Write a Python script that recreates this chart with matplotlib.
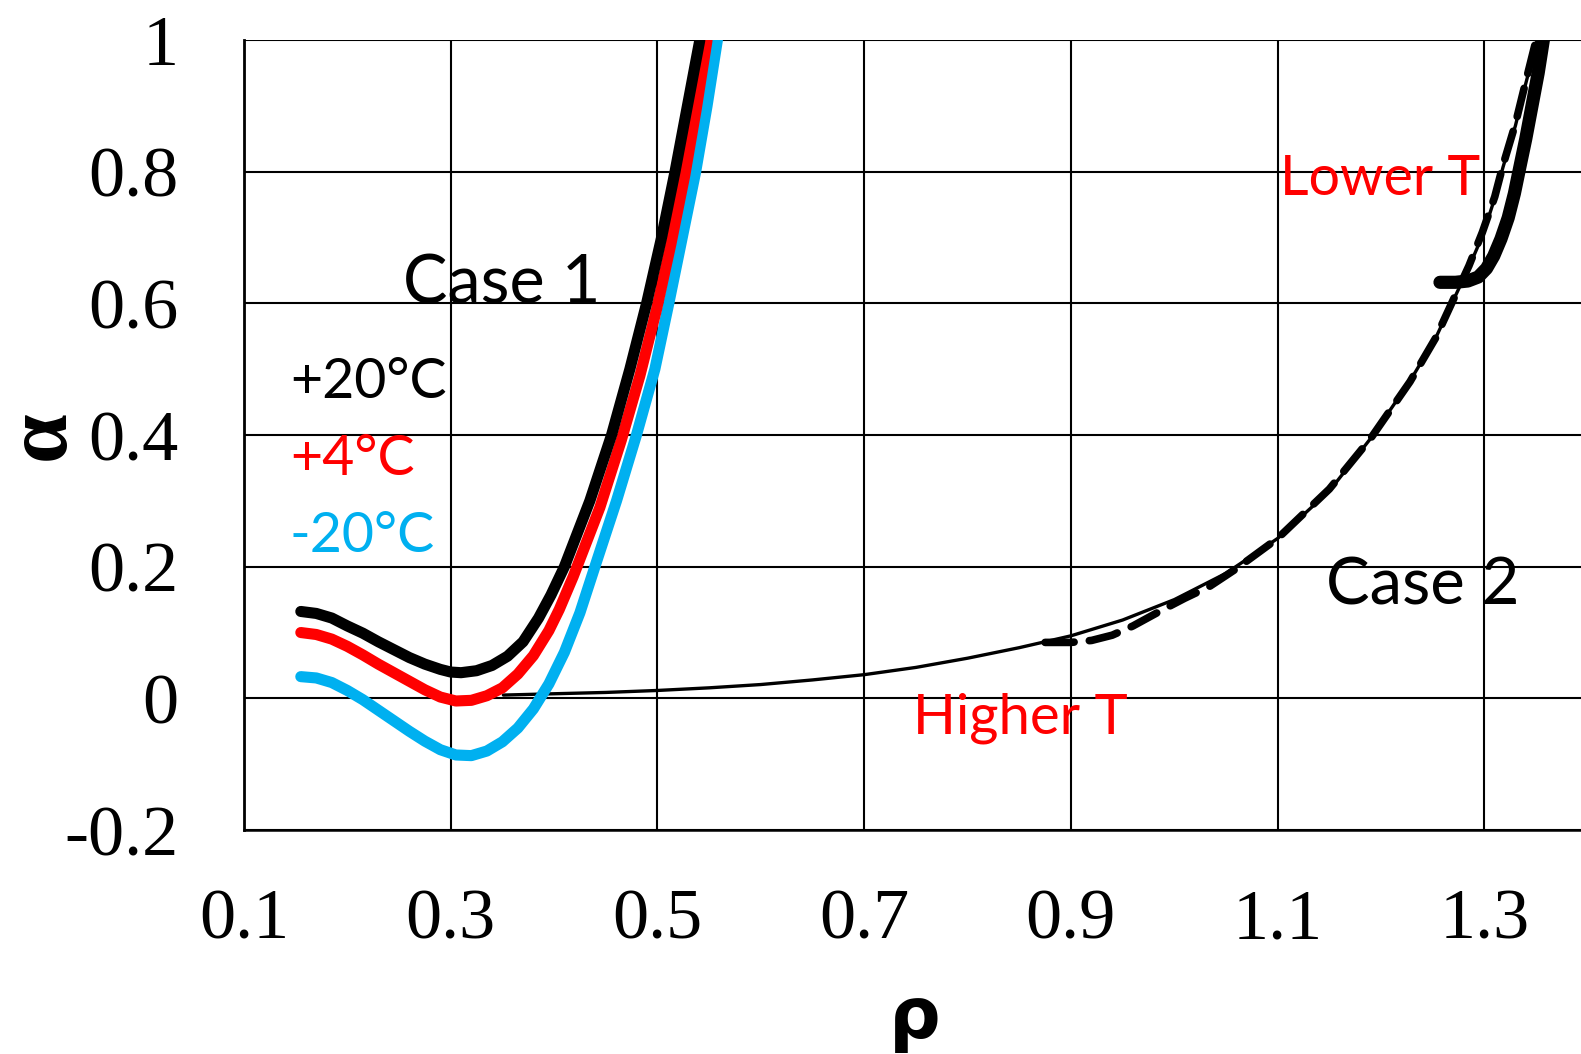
import numpy as np
import matplotlib
matplotlib.use("Agg")
import matplotlib.pyplot as plt

# -------------------------------
# Data
# -------------------------------
# Case 1: three temperatures
rho_p20 = [0.155, 0.17, 0.185, 0.2, 0.215, 0.23, 0.245, 0.26, 0.275, 0.29, 0.30, 0.31,
           0.325, 0.34, 0.355, 0.37, 0.385, 0.397, 0.41, 0.4346, 0.4556, 0.4733, 0.4895,
           0.504, 0.517, 0.529, 0.541]
alpha_p20 = [0.132, 0.129, 0.122, 0.110, 0.099, 0.086, 0.074, 0.062, 0.052, 0.044, 0.040,
             0.039, 0.042, 0.050, 0.064, 0.086, 0.122, 0.157, 0.2, 0.3, 0.4, 0.5, 0.6,
             0.7, 0.8, 0.9, 1.0]

rho_p4 = [0.155, 0.17, 0.185, 0.2, 0.215, 0.23, 0.245, 0.26, 0.275, 0.29, 0.305, 0.32,
          0.335, 0.35, 0.365, 0.38, 0.395, 0.405, 0.4185, 0.4443, 0.465, 0.483, 0.499,
          0.513, 0.5265, 0.5375, 0.548]
alpha_p4 = [0.100, 0.097, 0.090, 0.079, 0.066, 0.052, 0.039, 0.026, 0.013, 0.002, -0.004,
            -0.003, 0.004, 0.016, 0.037, 0.065, 0.103, 0.135, 0.185, 0.29, 0.392, 0.49,
            0.59, 0.69, 0.795, 0.895, 1.0]

rho_m20 = [0.155, 0.17, 0.185, 0.2, 0.215, 0.23, 0.245, 0.26, 0.275, 0.29, 0.305, 0.32,
           0.335, 0.35, 0.365, 0.38, 0.395, 0.41, 0.425, 0.4395, 0.4604, 0.4797, 0.4975,
           0.511, 0.524, 0.537, 0.548, 0.558]
alpha_m20 = [0.033, 0.031, 0.024, 0.012, -0.002, -0.018, -0.034, -0.050, -0.065, -0.078,
             -0.086, -0.087, -0.080, -0.066, -0.045, -0.016, 0.022, 0.070, 0.130, 0.2,
             0.3, 0.4, 0.5, 0.6, 0.7, 0.8, 0.9, 1.0]

# Case 2: thin reference curve, higher T (dashed), lower T (thick)
rho_c2 = [0.351, 0.4, 0.45, 0.5, 0.55, 0.6, 0.65, 0.7, 0.75, 0.8, 0.85, 0.9, 0.95, 1.0,
          1.05, 1.1, 1.15, 1.19, 1.228, 1.253, 1.27, 1.285, 1.299, 1.31, 1.318, 1.33,
          1.34, 1.351]
alpha_c2 = [0.005, 0.007, 0.009, 0.012, 0.016, 0.021, 0.028, 0.036, 0.047, 0.061, 0.077,
            0.095, 0.119, 0.150, 0.190, 0.243, 0.315, 0.395, 0.482, 0.548, 0.605, 0.655,
            0.706, 0.760, 0.807, 0.870, 0.934, 1.0]

rho_hi = [0.875, 0.9, 0.92, 0.94, 0.96, 0.988, 1.01, 1.034, 1.06, 1.10, 1.15, 1.19,
          1.228, 1.253, 1.27, 1.285, 1.298, 1.31, 1.318, 1.33, 1.34, 1.35]
alpha_hi = [0.085, 0.085, 0.088, 0.096, 0.110, 0.134, 0.152, 0.170, 0.197, 0.243, 0.318,
            0.395, 0.481, 0.548, 0.606, 0.657, 0.708, 0.762, 0.810, 0.873, 0.937, 1.0]

rho_lo = [1.257, 1.272, 1.284, 1.294, 1.302, 1.309, 1.316, 1.323, 1.329, 1.334, 1.340,
          1.346, 1.352, 1.357]
alpha_lo = [0.632, 0.632, 0.634, 0.640, 0.653, 0.672, 0.698, 0.730, 0.767, 0.805, 0.850,
            0.900, 0.950, 1.0]

xticks = [0.1, 0.3, 0.5, 0.7, 0.9, 1.1, 1.3]
yticks = [-0.2, 0, 0.2, 0.4, 0.6, 0.8, 1]
ytick_labels = ["-0.2", "0", "0.2", "0.4", "0.6", "0.8", "1"]

BLUE = "#00B0F0"
RED = "#FF0000"

# -------------------------------
# Figure
# -------------------------------
fig = plt.figure(figsize=(15.81, 10.54), dpi=100)
ax = fig.add_axes([0.1543, 0.2125, 0.850, 0.7495])

ax.plot(rho_c2, alpha_c2, color="black", lw=2.4, solid_capstyle="round", zorder=3)
ax.plot(rho_hi, alpha_hi, color="black", lw=5.5, linestyle=(0, (3.8, 2)),
        dash_capstyle="round", solid_joinstyle="round", zorder=3)
ax.plot(rho_lo, alpha_lo, color="black", lw=9.5, solid_capstyle="round",
        solid_joinstyle="round", zorder=3)

for r, a, c in [(rho_m20, alpha_m20, BLUE), (rho_p4, alpha_p4, RED),
                (rho_p20, alpha_p20, "black")]:
    ax.plot(r, a, color=c, lw=8, solid_capstyle="round", solid_joinstyle="round",
            zorder=4)

ax.set_xlim(0.1, 1.4)
ax.set_ylim(-0.2, 1.0)
ax.set_xticks(xticks)
ax.set_xticklabels([f"{v:.1f}" for v in xticks])
ax.set_yticks(yticks)
ax.set_yticklabels(ytick_labels)
ax.tick_params(length=0, labelsize=52)
ax.tick_params(axis="y", pad=47)
ax.tick_params(axis="x", pad=42)
for lab in ax.get_xticklabels() + ax.get_yticklabels():
    lab.set_fontfamily("Liberation Serif")

ax.grid(True, color="black", lw=1.5)
ax.set_axisbelow(True)
ax.spines["top"].set_visible(False)
ax.spines["right"].set_visible(False)
ax.spines["left"].set_linewidth(2)
ax.spines["bottom"].set_linewidth(1.8)

ax.set_ylabel("α", fontsize=64, fontweight="bold", family="Liberation Serif",
              va="center")
ax.yaxis.set_label_coords(-0.15, 0.5)
ax.set_xlabel("ρ", fontsize=52, fontweight="bold", family="DejaVu Sans", va="center")
ax.xaxis.set_label_coords(0.4993, -0.238)

txt = dict(family="Lato", va="baseline", ha="left")
ax.text(0.254, 0.60, "Case 1", fontsize=48, color="black", **txt)
ax.text(0.1445, 0.456, "+20°C", fontsize=40, color="black", **txt)
ax.text(0.1445, 0.340, "+4°C", fontsize=40, color=RED, **txt)
ax.text(0.1445, 0.223, "-20°C", fontsize=40, color=BLUE, **txt)
ax.text(1.147, 0.142, "Case 2", fontsize=47, color="black", **txt)
ax.text(1.102, 0.764, "Lower T", fontsize=40, color=RED, **txt)
ax.text(0.747, -0.054, "Higher T", fontsize=40.5, color=RED, **txt)

fig.savefig("out.png", dpi=100)
